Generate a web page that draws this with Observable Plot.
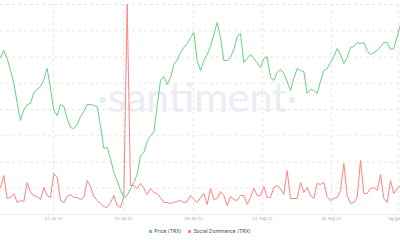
<!DOCTYPE html>
<html>
<head>
<meta charset="utf-8">
<script src="https://cdn.jsdelivr.net/npm/d3@7"></script>
<script src="https://cdn.jsdelivr.net/npm/@observablehq/plot@0.6"></script>
<style>
  html, body { margin: 0; padding: 0; background: #fff; }
  #wrap { width: 400px; height: 240px; position: relative; overflow: hidden; font-family: "Inter", "Noto Sans", sans-serif; }
  #wrap svg { overflow: hidden; display: block; }
  .legend { position: absolute; left: 0; top: 227px; width: 400px; display: flex; justify-content: center; align-items: center; gap: 7px; font-size: 5px; color: #4a4a4a; line-height: 8px; }
  .legend span.sw { display: inline-block; width: 3px; height: 3px; margin-right: 2px; vertical-align: middle; }
</style>
</head>
<body>
<div id="wrap"></div>
<script>
// Series: 4-hourly samples, 19 Jul – 08 Aug 2022
const seriesNames = ["Price (TRX)", "Social Dominance (TRX)"];
const seriesColors = ["#63d37e", "#ff8282"];

// Price in USD
const price = [
  0.07000, 0.07028, 0.06996, 0.06948, 0.06896, 0.06820, 0.06748, 0.06792, 0.06812, 0.06816,
  0.06860, 0.06872, 0.06884, 0.06912, 0.06956, 0.06876, 0.06788, 0.06768, 0.06812, 0.06804,
  0.06756, 0.06720, 0.06716, 0.06732, 0.06764, 0.06784, 0.06812, 0.06812, 0.06808, 0.06804,
  0.06728, 0.06636, 0.06640, 0.06596, 0.06540, 0.06508, 0.06468, 0.06440, 0.06448, 0.06476,
  0.06500, 0.06532, 0.06608, 0.06620, 0.06664, 0.06688, 0.06700, 0.06808, 0.06908, 0.06924,
  0.06892, 0.06920, 0.06972, 0.06988, 0.07020, 0.07040, 0.07056, 0.07080, 0.07100, 0.06988,
  0.06948, 0.06988, 0.07012, 0.07044, 0.07092, 0.07140, 0.07080, 0.06988, 0.06988, 0.07000,
  0.07032, 0.07084, 0.07096, 0.06980, 0.06996, 0.07012, 0.06996, 0.06980, 0.06960, 0.06996,
  0.07004, 0.06920, 0.06908, 0.06940, 0.06952, 0.06936, 0.06904, 0.06868, 0.06916, 0.06956,
  0.06948, 0.06944, 0.06856, 0.06872, 0.06868, 0.06856, 0.06904, 0.06948, 0.06956, 0.06980,
  0.07004, 0.07036, 0.07012, 0.06976, 0.07000, 0.07040, 0.07044, 0.07060, 0.07056, 0.07060,
  0.07028, 0.07012, 0.07020, 0.07028, 0.07044, 0.07060, 0.07060, 0.07032, 0.07036, 0.07084,
  0.07132
];

// Social dominance in %
const dominance = [
  0.90, 1.38, 0.46, 0.50, 0.66, 0.30, 0.38, 0.34, 1.10, 0.70,
  0.58, 0.54, 0.42, 0.90, 0.58, 0.50, 1.46, 1.30, 0.38, 0.30,
  0.54, 0.62, 0.50, 0.50, 0.42, 0.50, 1.18, 0.94, 0.54, 0.38,
  0.26, 0.14, 0.10, 0.30, 0.58, 0.18, 0.10, 0.54, 8.22, 0.98,
  0.98, 0.86, 1.06, 0.86, 0.62, 0.86, 0.70, 0.66, 0.50, 0.30,
  0.30, 0.26, 0.30, 0.34, 0.38, 0.30, 0.34, 0.58, 0.42, 0.30,
  0.50, 0.66, 0.22, 0.86, 0.42, 0.46, 0.74, 0.58, 0.18, 0.54,
  0.42, 0.38, 0.58, 0.58, 0.22, 0.50, 0.86, 0.58, 0.58, 0.94,
  0.50, 0.50, 0.90, 0.98, 0.86, 0.62, 1.58, 0.46, 0.46, 0.46,
  1.10, 0.70, 0.90, 0.58, 0.46, 1.06, 1.02, 1.10, 0.54, 0.38,
  0.46, 0.50, 0.78, 1.86, 0.58, 0.26, 0.30, 0.50, 1.98, 0.66,
  0.66, 0.86, 0.90, 0.78, 1.42, 0.46, 0.30, 1.18, 0.66, 0.86,
  0.98
];

// Axis extents of each series (independent axes, as in the original)
const priceExtent = [0.06372, 0.07212];
const dominanceExtent = [-0.18, 8.22];

// x-axis tick labels and the sample index they sit at
const tickLabels = ["22 Jul 22", "26 Jul 22", "29 Jul 22", "01 Aug 22", "05 Aug 22", "08 Aug 22"];
const tickIndex = [15.9, 36.9, 57.9, 78.6, 99.3, 119.4];
const gridLevels = d3.range(0, 9).map(k => k / 8);

const norm = ([a, b]) => v => (v - a) / (b - a);
const pN = norm(priceExtent), dN = norm(dominanceExtent);
const priceData = price.map((v, i) => ({i, v: pN(v)}));
const domData = dominance.map((v, i) => ({i, v: dN(v)}));
const labelOf = new Map(tickIndex.map((t, k) => [t, tickLabels[k]]));

const chart = Plot.plot({
  width: 400,
  height: 224,
  marginLeft: 0,
  marginRight: 0,
  marginTop: 4,
  marginBottom: 10,
  style: {fontFamily: "Inter, 'Noto Sans', sans-serif", background: "#fff"},
  x: {domain: [0, price.length - 1], axis: null},
  y: {domain: [0, 1], axis: null},
  marks: [
    Plot.text(["·santiment·"], {frameAnchor: "middle", dx: -3, dy: -11, fontSize: 41, fill: "#eaedf3", fontFamily: "Lato, sans-serif", fontWeight: 400}),
    Plot.gridY(gridLevels.filter(d => d > 0), {stroke: "#e8e8e8", strokeOpacity: 1, strokeDasharray: "3,3"}),
    Plot.ruleY([0], {stroke: "#ebebeb"}),
    Plot.gridX(tickIndex, {stroke: "#e8e8e8", strokeOpacity: 1, strokeDasharray: "3,3"}),
    Plot.axisX(tickIndex, {tickSize: 0, tickPadding: 3, fontSize: 4, fill: "#a3a7b0", tickFormat: d => labelOf.get(d)}),
    Plot.line(domData, {x: "i", y: "v", stroke: seriesColors[1], strokeWidth: 1}),
    Plot.line(priceData, {x: "i", y: "v", stroke: seriesColors[0], strokeWidth: 1})
  ]
});

const wrap = document.getElementById("wrap");
wrap.appendChild(chart);
const legend = document.createElement("div");
legend.className = "legend";
seriesNames.forEach((n, k) => {
  const item = document.createElement("div");
  item.innerHTML = `<span class="sw" style="background:${seriesColors[k]}"></span>${n}`;
  legend.appendChild(item);
});
wrap.appendChild(legend);
</script>
</body>
</html>
